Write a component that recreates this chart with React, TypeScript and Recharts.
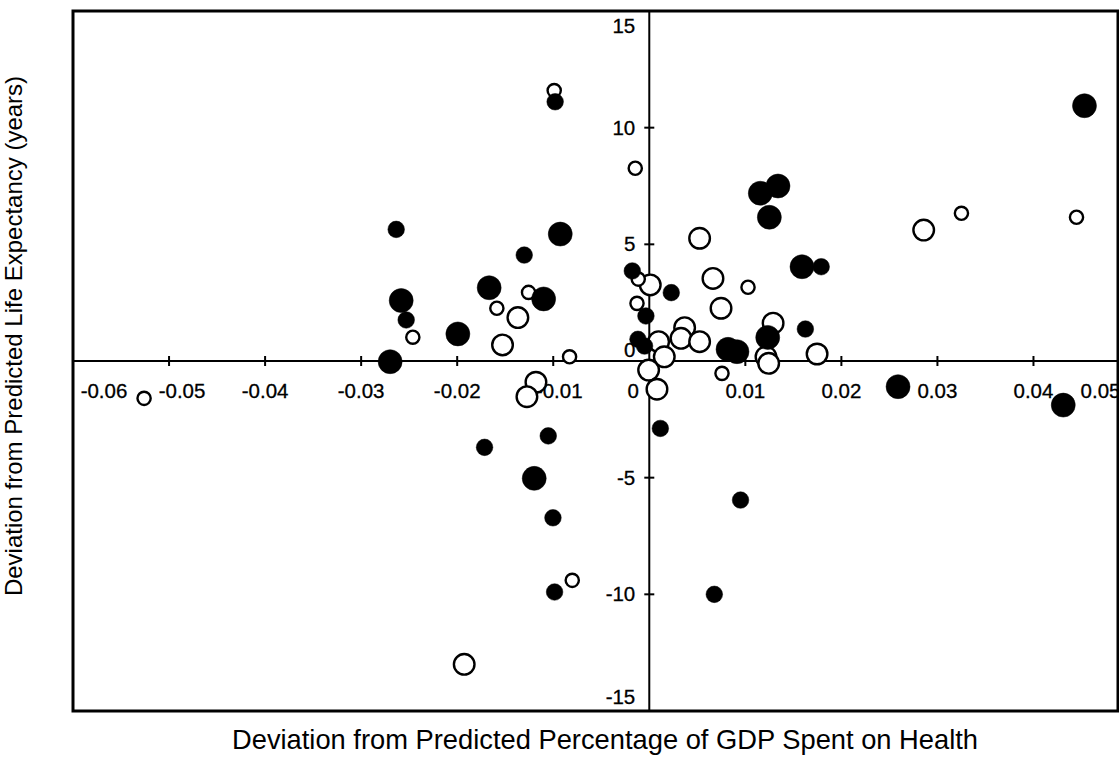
import React from 'react';
import { ScatterChart, Scatter, XAxis, YAxis, ReferenceLine, ReferenceArea, ReferenceDot } from 'recharts';

// Filled circles (small and large markers)
const filledSmall = [
  { x: -0.0098, y: 11.11 }, { x: -0.02635, y: 5.64 }, { x: -0.01302, y: 4.54 }, { x: -0.02531, y: 1.76 },
  { x: -0.01715, y: -3.7 }, { x: -0.01052, y: -3.21 }, { x: -0.01003, y: -6.72 }, { x: -0.00986, y: -9.9 },
  { x: 0.0179, y: 4.04 }, { x: -0.00177, y: 3.86 }, { x: 0.00229, y: 2.93 }, { x: -0.00035, y: 1.93 },
  { x: 0.01625, y: 1.37 }, { x: -0.00118, y: 0.93 }, { x: -0.00049, y: 0.64 }, { x: 0.00115, y: -2.89 },
  { x: 0.00677, y: -10.0 }, { x: 0.0095, y: -5.96 },
];
const filledLarge = [
  { x: -0.00927, y: 5.44 }, { x: -0.01667, y: 3.14 }, { x: -0.011, y: 2.66 }, { x: -0.02583, y: 2.59 },
  { x: -0.01993, y: 1.16 }, { x: -0.02698, y: -0.03 }, { x: -0.01198, y: -5.03 }, { x: 0.01156, y: 7.19 },
  { x: 0.0134, y: 7.5 }, { x: 0.0125, y: 6.16 }, { x: 0.0159, y: 4.04 }, { x: 0.01233, y: 1.01 },
  { x: 0.0082, y: 0.5 }, { x: 0.00913, y: 0.4 }, { x: 0.04531, y: 10.94 }, { x: 0.0259, y: -1.1 },
  { x: 0.0431, y: -1.89 },
];
// Open circles (small and large markers)
const openSmall = [
  { x: -0.0099, y: 11.59 }, { x: -0.01257, y: 2.94 }, { x: -0.01587, y: 2.26 }, { x: -0.02462, y: 1.02 },
  { x: -0.0083, y: 0.18 }, { x: -0.00802, y: -9.4 }, { x: -0.00146, y: 8.26 }, { x: -0.00115, y: 3.51 },
  { x: 0.01028, y: 3.16 }, { x: -0.00128, y: 2.47 }, { x: 0.00757, y: -0.53 }, { x: 0.0325, y: 6.33 },
  { x: 0.04448, y: 6.16 }, { x: -0.0526, y: -1.6 },
];
const openLarge = [
  { x: -0.01368, y: 1.86 }, { x: -0.01528, y: 0.69 }, { x: -0.0118, y: -0.91 }, { x: -0.01274, y: -1.53 },
  { x: -0.01927, y: -13.0 }, { x: 0.00524, y: 5.26 }, { x: 0.0001, y: 3.26 }, { x: 0.00663, y: 3.54 },
  { x: 0.00747, y: 2.26 }, { x: 0.01289, y: 1.62 }, { x: 0.00368, y: 1.43 }, { x: 0.0033, y: 0.97 },
  { x: 0.00524, y: 0.83 }, { x: 0.00097, y: 0.83 }, { x: 0.00156, y: 0.18 }, { x: 0.01215, y: 0.18 },
  { x: 0.01243, y: -0.1 }, { x: 0.01747, y: 0.3 }, { x: -0.00007, y: -0.39 }, { x: 0.0008, y: -1.21 },
  { x: 0.02857, y: 5.61 },
];

const xTicks = [-0.06, -0.05, -0.04, -0.03, -0.02, -0.01, 0, 0.01, 0.02, 0.03, 0.04, 0.05];
const xTickLabels = ['-0.06', '-0.05', '-0.04', '-0.03', '-0.02', '-0.01', '0', '0.01', '0.02', '0.03', '0.04', '0.05'];
const yTicks = [15, 10, 5, 0, -5, -10, -15];
const yTickLabels = ['15', '10', '5', '0', '-5', '-10', '-15'];

const X_DOMAIN: [number, number] = [-0.06, 0.0488];
const Y_DOMAIN: [number, number] = [-15, 15];

const FONT = '"Liberation Sans", Arial, Helvetica, sans-serif';

// label offsets (style only)
const xLabelDx: Record<string, number> = { '-0.06': 31, '-0.05': 13, '-0.01': 6, '0': -16, '0.05': -29 };
const yLabelDy: Record<string, number> = { '15': 22, '0': -4, '-15': -7 };

const circleShape = (r: number, filled: boolean) => (props: any) => {
  const { cx, cy } = props;
  if (cx == null || cy == null) return <g />;
  return filled ? (
    <circle cx={cx} cy={cy} r={r} fill="#000" stroke="#000" strokeWidth={0.5} />
  ) : (
    <circle cx={cx} cy={cy} r={r} fill="#fff" stroke="#000" strokeWidth={2.4} />
  );
};

const xTickShape = (label: string, v: number) => (props: any) => {
  const { cx, cy } = props;
  const inner = v > X_DOMAIN[0] && v < X_DOMAIN[1] && v !== 0;
  return (
    <g>
      {inner && <line x1={cx} y1={cy - 5} x2={cx} y2={cy + 5} stroke="#000" strokeWidth={2} />}
      <text x={cx + (xLabelDx[label] || 0)} y={cy + 37} textAnchor="middle" fontFamily={FONT} fontSize={20.5} fill="#000" stroke="#000" strokeWidth={0.3}>
        {label}
      </text>
    </g>
  );
};

const yTickShape = (label: string, v: number) => (props: any) => {
  const { cx, cy } = props;
  const inner = v > Y_DOMAIN[0] && v < Y_DOMAIN[1] && v !== 0;
  const dy = yLabelDy[label] !== undefined ? yLabelDy[label] : 7;
  return (
    <g>
      {inner && <line x1={cx - 5} y1={cy} x2={cx + 5} y2={cy} stroke="#000" strokeWidth={2} />}
      <text x={cx - 14} y={cy + dy} textAnchor="end" fontFamily={FONT} fontSize={20.5} fill="#000" stroke="#000" strokeWidth={0.3}>
        {label}
      </text>
    </g>
  );
};

export default function App() {
  return (
    <div style={{ position: 'absolute', left: 0, top: 0, width: 1119, height: 757, background: '#fff' }}>
      <ScatterChart width={1119} height={757} margin={{ top: 11, right: 1, bottom: 46, left: 73 }}>
        <XAxis type="number" dataKey="x" domain={X_DOMAIN} allowDataOverflow hide />
        <YAxis type="number" dataKey="y" domain={Y_DOMAIN} allowDataOverflow hide />
        <ReferenceArea x1={X_DOMAIN[0]} x2={X_DOMAIN[1]} y1={Y_DOMAIN[0]} y2={Y_DOMAIN[1]} fill="none" fillOpacity={0} stroke="#000" strokeWidth={3} ifOverflow="visible" />
        <ReferenceLine y={0} stroke="#000" strokeWidth={2} />
        <ReferenceLine x={0} stroke="#000" strokeWidth={2} />
        {xTicks.map((v, i) => (
          <ReferenceDot key={'xt' + i} x={v} y={0} r={0} ifOverflow="visible" shape={xTickShape(xTickLabels[i], v)} />
        ))}
        {yTicks.map((v, i) => (
          <ReferenceDot key={'yt' + i} x={0} y={v} r={0} ifOverflow="visible" shape={yTickShape(yTickLabels[i], v)} />
        ))}
        <Scatter data={openLarge} isAnimationActive={false} shape={circleShape(10.3, false)} />
        <Scatter data={openSmall} isAnimationActive={false} shape={circleShape(6.6, false)} />
        <Scatter data={filledLarge} isAnimationActive={false} shape={circleShape(12, true)} />
        <Scatter data={filledSmall} isAnimationActive={false} shape={circleShape(8.3, true)} />
      </ScatterChart>
      <svg width={1119} height={757} style={{ position: 'absolute', left: 0, top: 0, pointerEvents: 'none' }}>
        <text x={605} y={749} textAnchor="middle" fontFamily={FONT} fontSize={27.3} fill="#000">
          Deviation from Predicted Percentage of GDP Spent on Health
        </text>
        <text transform="translate(22,336) rotate(-90)" textAnchor="middle" fontFamily={FONT} fontSize={24} fill="#000">
          Deviation from Predicted Life Expectancy (years)
        </text>
      </svg>
    </div>
  );
}
